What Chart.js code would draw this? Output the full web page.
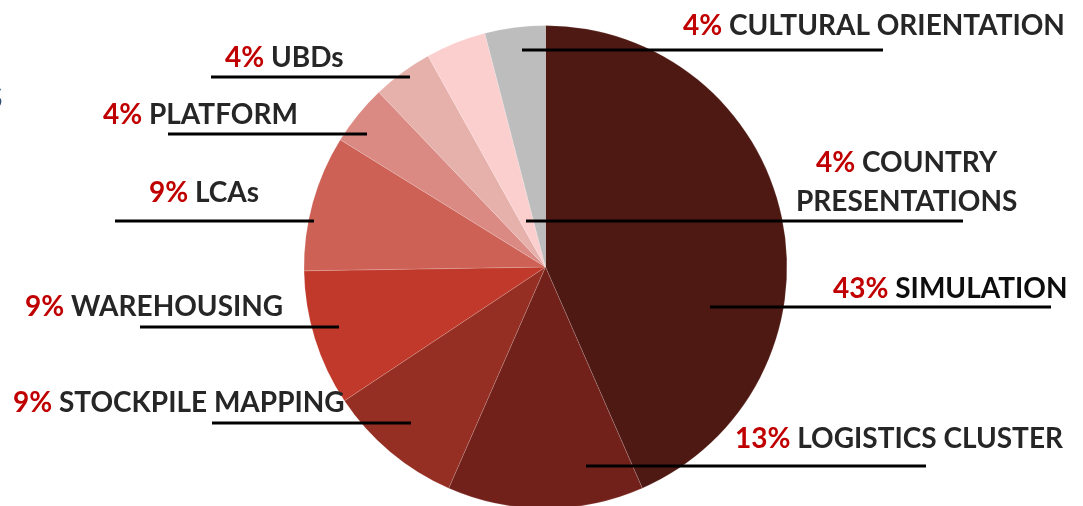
<!DOCTYPE html>
<html>
<head>
<meta charset="utf-8">
<script src="https://cdn.jsdelivr.net/npm/chart.js@4.4.0/dist/chart.umd.min.js"></script>
<style>
  html, body { margin: 0; padding: 0; background: #ffffff; overflow: hidden; width: 1083px; height: 506px; }
  #wrap { position: relative; width: 1083px; height: 520px; }
  #edge { position: absolute; left: -13px; top: 80px; font: bold 28px Lato, sans-serif; color: #2f4f75; }
</style>
</head>
<body>
<div id="wrap"><canvas id="c" width="1083" height="520"></canvas><span id="edge">S</span></div>
<script>
// ---- data ----
const categories = ['SIMULATION', 'LOGISTICS CLUSTER', 'STOCKPILE MAPPING', 'WAREHOUSING', 'LCAs', 'PLATFORM', 'UBDs', 'COUNTRY PRESENTATIONS', 'CULTURAL ORIENTATION'];
const shares = [43, 13, 9, 9, 9, 4, 4, 4, 4];
const sliceColors = ['#4e1913', '#72201a', '#952e23', '#c0392b', '#cd6155', '#da8a83', '#e6b0ab', '#fccfcf', '#bdbdbd'];

// ---- label layout (text rows + leader lines) ----
const labelLayout = [
  { rows: [{ x: 833, y: 298, pct: true, text: 'SIMULATION' }], line: [710, 1051, 307], nameColor: '#0d0d0d' },
  { rows: [{ x: 735, y: 448, pct: true, text: 'LOGISTICS CLUSTER' }], line: [586, 926, 466] },
  { rows: [{ x: 13, y: 412, pct: true, text: 'STOCKPILE MAPPING' }], line: [212, 411, 423] },
  { rows: [{ x: 25, y: 316, pct: true, text: 'WAREHOUSING' }], line: [140, 339, 327] },
  { rows: [{ x: 149, y: 202, pct: true, text: 'LCAs' }], line: [115, 314, 221] },
  { rows: [{ x: 103, y: 124, pct: true, text: 'PLATFORM' }], line: [168, 367, 134] },
  { rows: [{ x: 225, y: 67, pct: true, text: 'UBDs' }], line: [211, 410, 77] },
  { rows: [{ x: 816, y: 172, pct: true, text: 'COUNTRY' }, { x: 796, y: 211, pct: false, text: 'PRESENTATIONS' }], line: [526, 963, 221] },
  { rows: [{ x: 683, y: 35, pct: true, text: 'CULTURAL ORIENTATION' }], line: [522, 883, 50] }
];

const FONT = 'bold 28px Lato, "Open Sans", sans-serif';

const labelPlugin = {
  id: 'labels',
  afterDraw(chart) {
    const ctx = chart.ctx;
    ctx.save();
    labelLayout.forEach((lab, i) => {
      // leader line
      ctx.strokeStyle = '#000000';
      ctx.lineWidth = 3;
      ctx.beginPath();
      ctx.moveTo(lab.line[0], lab.line[2]);
      ctx.lineTo(lab.line[1], lab.line[2]);
      ctx.stroke();
      ctx.font = FONT;
      ctx.textBaseline = 'alphabetic';
      ctx.textAlign = 'left';
      lab.rows.forEach(r => {
        let x = r.x;
        if (r.pct) {
          const p = shares[i] + '% ';
          ctx.fillStyle = '#c00000';
          ctx.fillText(p, x, r.y);
          x += ctx.measureText(p).width;
        }
        ctx.fillStyle = lab.nameColor || '#262626';
        ctx.fillText(r.text, x, r.y);
      });
    });
    ctx.restore();
  }
};

new Chart(document.getElementById('c'), {
  type: 'pie',
  data: {
    labels: categories,
    datasets: [{
      data: shares,
      backgroundColor: sliceColors,
      borderColor: 'rgba(255,255,255,0.15)',
      borderWidth: 1,
      hoverOffset: 0,
      offset: 0
    }]
  },
  options: {
    responsive: false,
    animation: false,
    layout: { padding: { top: 25, bottom: 11, left: 8, right: 0 } },
    plugins: { legend: { display: false }, tooltip: { enabled: false } }
  },
  plugins: [labelPlugin]
});
</script>
</body>
</html>
